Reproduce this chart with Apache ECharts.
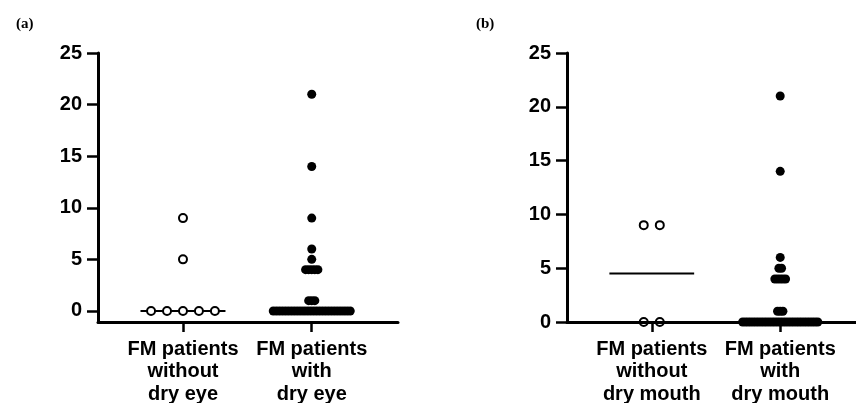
<!DOCTYPE html>
<html>
<head>
<meta charset="utf-8">
<script src="https://cdn.jsdelivr.net/npm/echarts@6/dist/echarts.min.js"></script>
<style>
  html, body { margin: 0; padding: 0; background: #fff; }
  #chart { width: 856px; height: 403px; }
</style>
</head>
<body>
<div id="chart"></div>
<script>
// 分类标签
const categoriesEye = ['FM patients\nwithout\ndry eye', 'FM patients\nwith\ndry eye']
const categoriesMouth = ['FM patients\nwithout\ndry mouth', 'FM patients\nwith\ndry mouth']
const yTicks = [0, 5, 10, 15, 20, 25]

// (a) 数据
const withoutDryEye = [9, 5, 0, 0, 0, 0, 0]
const withDryEye = [21, 14, 9, 6, 5, 4, 4, 4, 4, 4, 1, 1, 1,
  0, 0, 0, 0, 0, 0, 0, 0, 0, 0, 0, 0, 0,
  0, 0, 0, 0, 0, 0, 0, 0, 0, 0, 0, 0, 0]

// (b) 数据
const withoutDryMouth = [9, 9, 0, 0]
const withDryMouth = [21, 14, 6, 5, 5, 4, 4, 4, 4, 4, 1, 1, 1,
  0, 0, 0, 0, 0, 0, 0, 0, 0, 0, 0, 0, 0, 0, 0,
  0, 0, 0, 0, 0, 0, 0, 0, 0, 0, 0, 0, 0, 0]

// 同值的点横向排开
function spread (values, center, step) {
  const counts = {}
  values.forEach(v => { counts[v] = (counts[v] || 0) + 1 })
  const out = []
  Object.keys(counts).forEach(k => {
    const n = counts[k]
    for (let j = 0; j < n; j++) {
      out.push([center + (j - (n - 1) / 2) * step, Number(k)])
    }
  })
  return out
}

function median (values) {
  const s = values.slice().sort((a, b) => a - b)
  const m = Math.floor(s.length / 2)
  return s.length % 2 ? s[m] : (s[m - 1] + s[m]) / 2
}

const font = 'Liberation Sans, Arial, sans-serif'
const labelStyle = { color: '#000', fontFamily: font, fontWeight: 'bold', fontSize: 20 }

function xAxisOf (gridIndex, names, max, z) {
  return {
    type: 'value',
    gridIndex: gridIndex,
    min: 0.34,
    max: max,
    z: z,
    splitLine: { show: false },
    axisLine: { show: true, onZero: false, lineStyle: { color: '#000', width: 3 } },
    axisTick: { show: true, customValues: [1, 2], length: 10, lineStyle: { color: '#000', width: 2.5 } },
    axisLabel: {
      customValues: [1, 2],
      formatter: v => names[Math.round(v) - 1],
      margin: 16,
      lineHeight: 22.5,
      ...labelStyle
    }
  }
}

function yAxisOf (gridIndex, min) {
  return {
    type: 'value',
    gridIndex: gridIndex,
    min: min,
    max: 25,
    splitLine: { show: false },
    axisLine: { show: true, onZero: false, lineStyle: { color: '#000', width: 3 } },
    axisTick: { show: true, customValues: yTicks, length: 11, lineStyle: { color: '#000', width: 2.5 } },
    axisLabel: { customValues: yTicks, margin: 16, ...labelStyle }
  }
}

function medianLine (idx, values, center) {
  const m = median(values)
  return {
    type: 'line',
    xAxisIndex: idx,
    yAxisIndex: idx,
    data: [[center - 0.33, m], [center + 0.33, m]],
    symbol: 'none',
    z: 2,
    lineStyle: { color: '#000', width: 2 },
    silent: true
  }
}

function openDots (idx, values, center, step) {
  return {
    type: 'scatter',
    xAxisIndex: idx,
    yAxisIndex: idx,
    data: spread(values, center, step),
    symbolSize: 8,
    z: 3,
    itemStyle: { color: '#fff', borderColor: '#000', borderWidth: 2, opacity: 1 }
  }
}

function filledDots (idx, values, center, step) {
  return {
    type: 'scatter',
    xAxisIndex: idx,
    yAxisIndex: idx,
    data: spread(values, center, step),
    symbolSize: 9,
    z: 3,
    itemStyle: { color: '#000', opacity: 1 }
  }
}

const option = {
  animation: false,
  backgroundColor: '#fff',
  title: [
    { text: '(a)', left: 11, top: 12, textStyle: { fontFamily: 'Liberation Serif, Times New Roman, serif', fontWeight: 'bold', fontSize: 15, color: '#000' } },
    { text: '(b)', left: 471, top: 12, textStyle: { fontFamily: 'Liberation Serif, Times New Roman, serif', fontWeight: 'bold', fontSize: 15, color: '#000' } }
  ],
  grid: [
    { left: 98, right: 458, top: 53, bottom: 81, outerBoundsMode: 'none' },
    { left: 567, right: 0, top: 53, bottom: 81, outerBoundsMode: 'none' }
  ],
  xAxis: [
    xAxisOf(0, categoriesEye, 2.67, 0),
    xAxisOf(1, categoriesMouth, 2.59, 4)
  ],
  yAxis: [
    yAxisOf(0, -1.07),
    yAxisOf(1, 0)
  ],
  series: [
    medianLine(0, withoutDryEye, 1),
    medianLine(0, withDryEye, 2),
    openDots(0, withoutDryEye, 1, 0.124),
    filledDots(0, withDryEye, 2, 0.0239),
    medianLine(1, withoutDryMouth, 1),
    medianLine(1, withDryMouth, 2),
    openDots(1, withoutDryMouth, 1, 0.125),
    filledDots(1, withDryMouth, 2, 0.0209)
  ]
}

const myChart = echarts.init(document.getElementById('chart'))
myChart.setOption(option)
</script>
</body>
</html>
